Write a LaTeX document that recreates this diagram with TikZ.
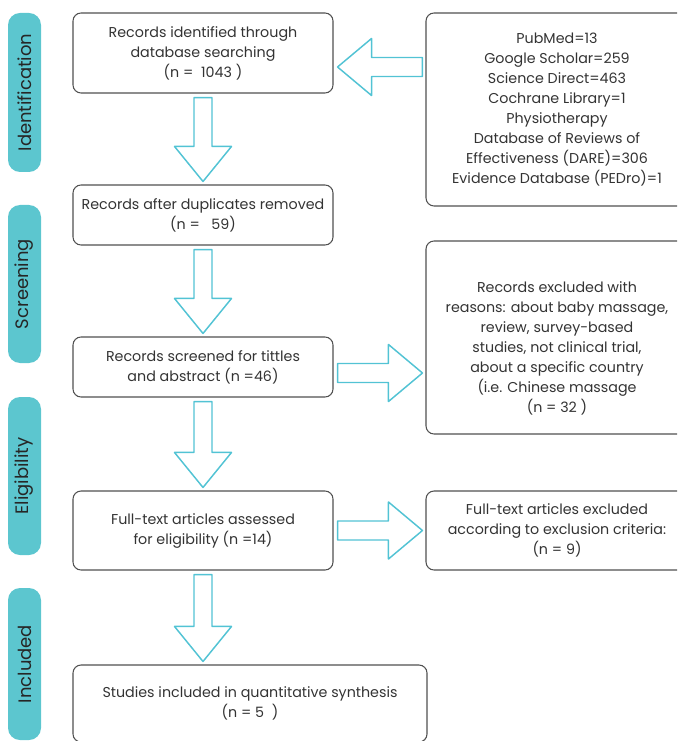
\documentclass[tikz,border=0pt]{standalone}
\usepackage{fontspec}
\setmainfont{Poppins}
\usetikzlibrary{calc}
\definecolor{barteal}{HTML}{5CC6CF}
\definecolor{arrowcyan}{HTML}{52C3D4}
\definecolor{boxgray}{HTML}{505050}
\definecolor{txtgray}{HTML}{333333}

\begin{document}
\begin{tikzpicture}[x=0.75pt, y=-0.75pt,
  box/.style = {shape=rectangle, rounded corners=6pt,
    draw=boxgray, line width=0.8pt, align=center, text=txtgray,
    inner sep=0pt, font=\fontsize{10.7}{15}\selectfont},
  leftbox/.style = {box, minimum width=195pt},
  rightbox/.style = {box, minimum width=196.5pt},
  bar/.style = {shape=rectangle, rounded corners=9pt, fill=barteal,
    rotate=90, minimum height=24.75pt, inner sep=0pt,
    text=black!85, font=\fontsize{13.5}{15}\selectfont},
  blockarrow/.style = {draw=arrowcyan, line width=1.1pt, fill=white,
    line join=round}]
  \useasboundingbox (0,0) rectangle (677,741);
  \clip (0,0) rectangle (677,741);

  % phase bars
  \node[bar, minimum width=119.25pt] (idbar) at (24.5,92.5) {Identification};
  \node[bar, minimum width=118.5pt] (scrbar) at (24.5,284) {Screening};
  \node[bar, minimum width=118.5pt] (eligbar) at (24.5,476) {Eligibility};
  \node[bar, minimum width=114pt] (inclbar) at (24.5,664) {Included};

  % main column
  \node[leftbox, minimum height=60pt] (found) at (203,53)
    {Records identified through\\database searching\\(n =\ \ 1043 )};
  \node[leftbox, minimum height=45pt] (dedup) at (203,215)
    {Records after duplicates removed\\(n =\ \ \ 59)};
  \node[leftbox, minimum height=45pt] (screened) at (203,367)
    {Records screened for tittles\\and abstract (n =46)};
  \node[leftbox, minimum height=59.25pt] (fulltext) at (203,530.5)
    {Full-text articles assessed\\for eligibility (n =14)};
  \node[box, minimum width=265.5pt, minimum height=57.75pt] (included) at (250,703.5)
    {Studies included in quantitative synthesis\\(n = 5\ \ )};

  % side column
  \node[rightbox, minimum height=144.75pt] (sources) at (557,109.5)
    {PubMed=13\\Google Scholar=259\\Science Direct=463\\Cochrane Library=1\\
     Physiotherapy\\Database of Reviews of\\Effectiveness (DARE)=306\\
     Evidence Database (PEDro)=1};
  \node[rightbox, minimum height=144.75pt] (excluded) at (557,337.5)
    {\rule{0pt}{25pt}Records excluded with\\reasons: about baby massage,\\review, survey-based\\
     studies, not clinical trial,\\about a specific country\\(i.e. Chinese massage\\(n = 32 )};
  \node[rightbox, minimum height=59.25pt] (fullexcl) at (557,530.5)
    {Full-text articles excluded\\according to exclusion criteria:\\(n = 9)};

  % down arrows
  \foreach \from/\to in {found/dedup, dedup/screened, screened/fulltext}
    \draw[blockarrow] ($(\from.south)+(-9,4)$) -- ($(\to.north)+(-9,-38)$)
      -- ($(\to.north)+(-28.5,-38)$) -- ($(\to.north)+(0,-3)$)
      -- ($(\to.north)+(28.5,-38)$) -- ($(\to.north)+(9,-38)$)
      -- ($(\from.south)+(9,4)$) -- cycle;
  \coordinate (lasttip) at ($(fulltext.south |- included.north)+(0,-3)$);
  \draw[blockarrow] ($(fulltext.south)+(-9,4)$) -- ($(lasttip)+(-9,-35)$)
    -- ($(lasttip)+(-28.5,-35)$) -- (lasttip) -- ($(lasttip)+(28.5,-35)$)
    -- ($(lasttip)+(9,-35)$) -- ($(fulltext.south)+(9,4)$) -- cycle;

  % arrow from the sources
  \coordinate (srctip) at ($(found.east)+(4,14)$);
  \coordinate (srctail) at ($(sources.west |- srctip)+(-3,0)$);
  \draw[blockarrow] ($(srctail)+(0,-9.5)$) -- ($(srctip)+(34,-9.5)$)
    -- ($(srctip)+(34,-28.5)$) -- (srctip) -- ($(srctip)+(34,28.5)$)
    -- ($(srctip)+(34,9.5)$) -- ($(srctail)+(0,9.5)$) -- cycle;

  % arrows to the exclusions
  \foreach \from/\to/\dy in {screened/excluded/6, fulltext/fullexcl/0} {
    \coordinate (outtail) at ($(\from.east)+(4,\dy)$);
    \coordinate (outtip) at ($(\to.west |- outtail)+(-3,0)$);
    \draw[blockarrow] ($(outtail)+(0,-9.5)$) -- ($(outtip)+(-34,-9.5)$)
      -- ($(outtip)+(-34,-28.5)$) -- (outtip) -- ($(outtip)+(-34,28.5)$)
      -- ($(outtip)+(-34,9.5)$) -- ($(outtail)+(0,9.5)$) -- cycle;
  }
\end{tikzpicture}
\end{document}
